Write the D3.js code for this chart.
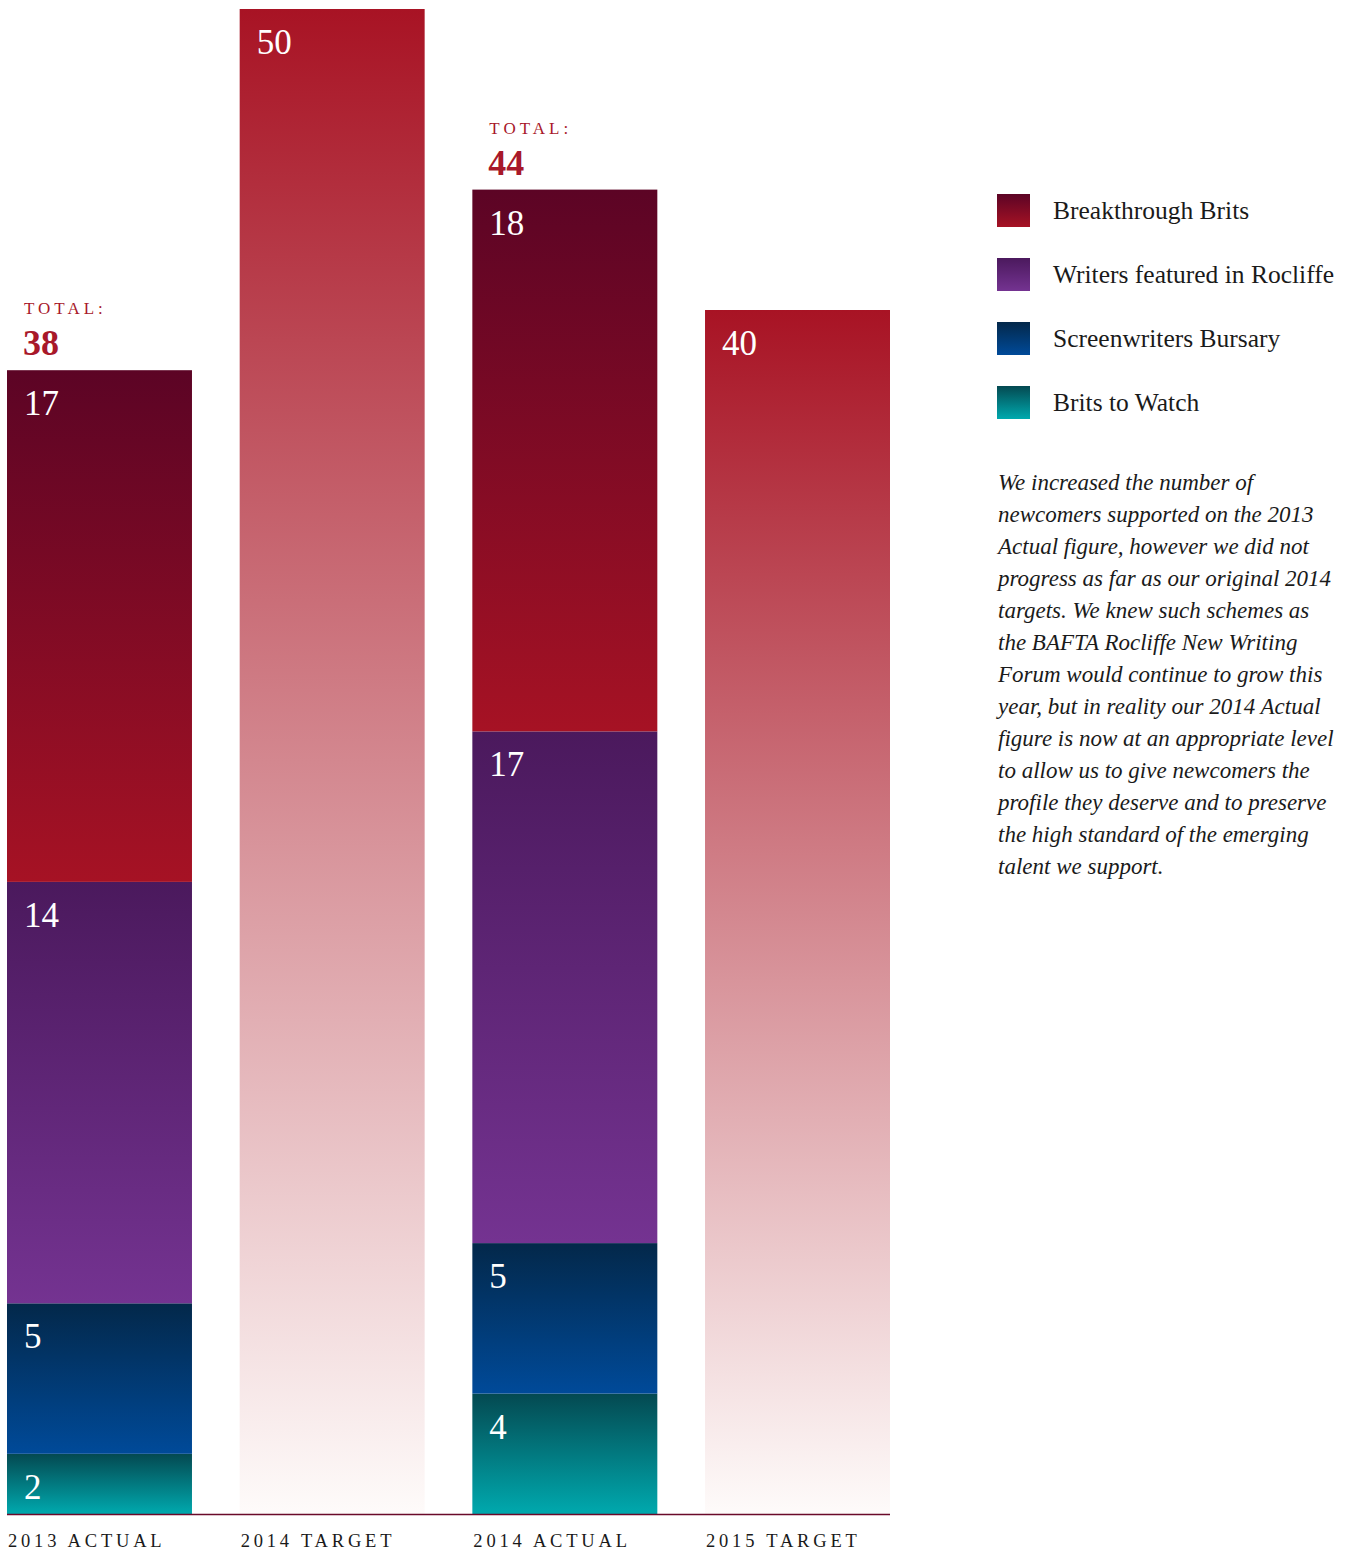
<!DOCTYPE html>
<html>
<head>
<meta charset="utf-8">
<script src="https://cdn.jsdelivr.net/npm/d3@7"></script>
<style>
  body { margin: 0; background: #fff; }
  text { font-family: "Liberation Serif", "DejaVu Serif", serif; }
</style>
</head>
<body>
<svg id="chart" width="1364" height="1553"></svg>
<script>
// data
const categories = ["2013 ACTUAL", "2014 TARGET", "2014 ACTUAL", "2015 TARGET"];
const seriesNames = ["Brits to Watch", "Screenwriters Bursary", "Writers featured in Rocliffe", "Breakthrough Brits"];
const britsToWatch = [2, null, 4, null];
const screenwriters = [5, null, 5, null];
const writersRocliffe = [14, null, 17, null];
const breakthrough = [17, null, 18, null];
const targets = [null, 50, null, 40];
const totals = [38, null, 44, null];
const legendOrder = ["Breakthrough Brits", "Writers featured in Rocliffe", "Screenwriters Bursary", "Brits to Watch"];
const noteLines = [
  "We increased the number of",
  "newcomers supported on the 2013",
  "Actual figure, however we did not",
  "progress as far as our original 2014",
  "targets. We knew such schemes as",
  "the BAFTA Rocliffe New Writing",
  "Forum would continue to grow this",
  "year, but in reality our 2014 Actual",
  "figure is now at an appropriate level",
  "to allow us to give newcomers the",
  "profile they deserve and to preserve",
  "the high standard of the emerging",
  "talent we support."
];

const gradStops = {
  "Breakthrough Brits": ["#5c0425", "#a61224"],
  "Writers featured in Rocliffe": ["#4b195d", "#743391"],
  "Screenwriters Bursary": ["#03284a", "#004a99"],
  "Brits to Watch": ["#044951", "#00a9ae"],
  "target": ["#a81324", "#fefbfa"]
};

const svg = d3.select("#chart");
const defs = svg.append("defs");
Object.keys(gradStops).forEach((k, i) => {
  const g = defs.append("linearGradient").attr("id", "g" + i)
    .attr("x1", 0).attr("y1", 0).attr("x2", 0).attr("y2", 1);
  g.append("stop").attr("offset", "0%").attr("stop-color", gradStops[k][0]);
  g.append("stop").attr("offset", "100%").attr("stop-color", gradStops[k][1]);
  gradStops[k].id = "url(#g" + i + ")";
});

const x = d3.scaleBand().domain(categories).range([7, 890]).paddingInner(0.205).paddingOuter(0);
const y = d3.scaleLinear().domain([0, 50]).range([1514, 9]);
const bw = x.bandwidth();

const seriesVals = [britsToWatch, screenwriters, writersRocliffe, breakthrough];
const rows = categories.map((c, i) => {
  const r = { cat: c };
  seriesNames.forEach((s, j) => r[s] = seriesVals[j][i] || 0);
  return r;
});
const stacked = d3.stack().keys(seriesNames)(rows);

stacked.forEach(layer => {
  layer.forEach((d, i) => {
    const v = d[1] - d[0];
    if (!v) return;
    const bx = x(categories[i]);
    svg.append("rect").attr("x", bx).attr("y", y(d[1])).attr("width", bw)
      .attr("height", y(d[0]) - y(d[1])).attr("fill", gradStops[layer.key].id);
    svg.append("text").attr("x", bx + 17).attr("y", y(d[1]) + 45)
      .attr("fill", "#fff").attr("font-size", 35).text(v);
  });
});

targets.forEach((v, i) => {
  if (v == null) return;
  const bx = x(categories[i]);
  svg.append("rect").attr("x", bx).attr("y", y(v)).attr("width", bw)
    .attr("height", y(0) - y(v)).attr("fill", gradStops["target"].id);
  svg.append("text").attr("x", bx + 17).attr("y", y(v) + 45)
    .attr("fill", "#fff").attr("font-size", 35).text(v);
});

totals.forEach((v, i) => {
  if (v == null) return;
  const bx = x(categories[i]);
  svg.append("text").attr("x", bx + 17).attr("y", y(v) - 56)
    .attr("fill", "#a8182a").attr("font-size", 17).attr("letter-spacing", 4).text("TOTAL:");
  svg.append("text").attr("x", bx + 16).attr("y", y(v) - 15)
    .attr("fill", "#a8182a").attr("font-size", 36).attr("font-weight", "bold").text(v);
});

// baseline
svg.append("line").attr("x1", 7).attr("x2", 890).attr("y1", y(0) + 0.5).attr("y2", y(0) + 0.5)
  .attr("stroke", "#6a0a2a").attr("stroke-width", 1.5);

categories.forEach(c => {
  svg.append("text").attr("x", x(c) + 1).attr("y", 1547)
    .attr("fill", "#1a1a1a").attr("font-size", 18.5).attr("letter-spacing", 3.8).text(c);
});

// legend
const lg = svg.append("g").attr("transform", "translate(997,194)");
legendOrder.forEach((s, i) => {
  lg.append("rect").attr("x", 0).attr("y", i * 64).attr("width", 33).attr("height", 33)
    .attr("fill", gradStops[s].id);
  lg.append("text").attr("x", 56).attr("y", i * 64 + 25)
    .attr("fill", "#1a1a1a").attr("font-size", 25.5).text(s);
});

// note
const note = svg.append("text").attr("x", 998).attr("y", 490)
  .attr("fill", "#1a1a1a").attr("font-size", 23).attr("font-style", "italic");
note.selectAll("tspan").data(noteLines).join("tspan")
  .attr("x", 998).attr("dy", (d, i) => i ? 32 : 0).text(d => d);
</script>
</body>
</html>
